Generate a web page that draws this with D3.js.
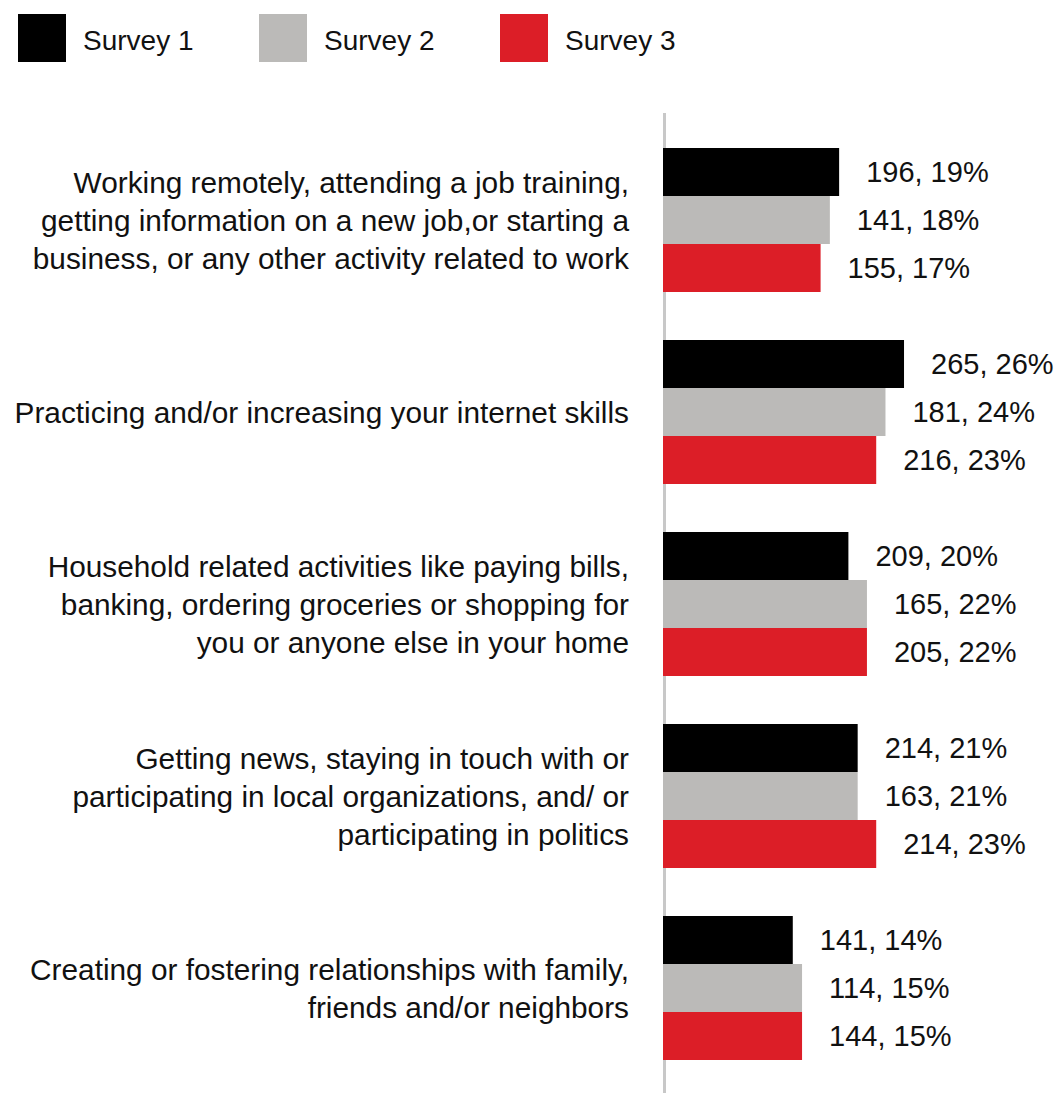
<!DOCTYPE html>
<html>
<head>
<meta charset="utf-8">
<script src="https://cdn.jsdelivr.net/npm/d3@7"></script>
<style>
  html, body { margin: 0; padding: 0; background: #fff; }
  svg text { font-family: "Liberation Sans", Arial, sans-serif; fill: #111; }
</style>
</head>
<body>
<svg id="chart" width="1062" height="1098"></svg>
<script>
const categories = [
  ["Working remotely, attending a job training,", "getting information on a new job,or starting a", "business, or any other activity related to work"],
  ["Practicing and/or increasing your internet skills"],
  ["Household related activities like paying bills,", "banking, ordering groceries or shopping for", "you or anyone else in your home"],
  ["Getting news, staying in touch with or", "participating in local organizations, and/ or", "participating in politics"],
  ["Creating or fostering relationships with family,", "friends and/or neighbors"]
];
const seriesNames = ["Survey 1", "Survey 2", "Survey 3"];
const counts1 = [196, 265, 209, 214, 141];
const counts2 = [141, 181, 165, 163, 114];
const counts3 = [155, 216, 205, 214, 144];
const pct1 = [19, 26, 20, 21, 14];
const pct2 = [18, 24, 22, 21, 15];
const pct3 = [17, 23, 22, 23, 15];
const colors = ["#000000", "#bbbab8", "#dc1e27"];

const counts = [counts1, counts2, counts3];
const pcts = [pct1, pct2, pct3];

const svg = d3.select("#chart");

// Legend
const legend = svg.append("g");
seriesNames.forEach((name, i) => {
  const g = legend.append("g").attr("transform", `translate(${18 + i * 241},14)`);
  g.append("rect").attr("width", 48).attr("height", 48).attr("fill", colors[i]);
  g.append("text").attr("x", 65).attr("y", 36).attr("font-size", 28).text(name);
});

// Scales
const axisX = 663;
const x = d3.scaleLinear().domain([0, 100]).range([axisX, axisX + 927]);
const y = d3.scaleBand().domain(d3.range(categories.length)).range([124, 1084]).paddingInner(0.25).paddingOuter(0.125);
const ySub = d3.scaleBand().domain(d3.range(3)).range([0, y.bandwidth()]);

// Axis line
svg.append("line")
  .attr("x1", axisX + 1.5).attr("x2", axisX + 1.5)
  .attr("y1", 113).attr("y2", 1093)
  .attr("stroke", "#c8c8c8").attr("stroke-width", 3);

// Bars
const groups = svg.append("g").selectAll("g").data(categories).join("g")
  .attr("transform", (d, i) => `translate(0,${y(i)})`);

groups.each(function(cat, ci) {
  const g = d3.select(this);
  for (let s = 0; s < 3; s++) {
    g.append("rect")
      .attr("x", x(0))
      .attr("y", ySub(s))
      .attr("width", x(pcts[s][ci]) - x(0))
      .attr("height", ySub.bandwidth())
      .attr("fill", colors[s]);
    g.append("text")
      .attr("x", x(pcts[s][ci]) + 27)
      .attr("y", ySub(s) + ySub.bandwidth() / 2 + 10)
      .attr("font-size", 29)
      .text(`${counts[s][ci]}, ${pcts[s][ci]}%`);
  }
  // Category label
  const cy = y.bandwidth() / 2;
  const n = cat.length;
  cat.forEach((line, li) => {
    g.append("text")
      .attr("x", 629)
      .attr("y", cy + 11 + (li - (n - 1) / 2) * 38)
      .attr("text-anchor", "end")
      .attr("font-size", 29.8)
      .text(line);
  });
});
</script>
</body>
</html>
